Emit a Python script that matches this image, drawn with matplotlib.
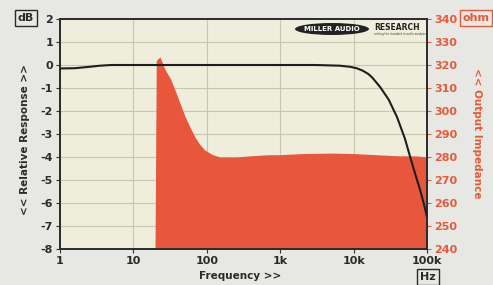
import numpy as np
import matplotlib
matplotlib.use("Agg")
import matplotlib.pyplot as plt
from matplotlib.patches import Ellipse

# Frequency response (dB)
resp_freq = [1, 1.6, 2.5, 3.5, 5, 10, 100, 1000, 3000, 6500, 9000, 11000, 13400, 16000, 18000, 23000, 30000, 39000, 50000, 59000, 70000, 80000, 90000, 100000]
resp_db = [-0.15, -0.14, -0.08, -0.03, 0.0, 0.0, 0.0, 0.0, 0.0, -0.03, -0.08, -0.14, -0.25, -0.4, -0.55, -0.96, -1.5, -2.26, -3.2, -4.0, -4.8, -5.4, -6.0, -6.6]

# Output impedance (ohm)
imp_freq = [19.7, 20.5, 23, 27, 32, 37, 43, 50, 59, 69, 80, 94, 120, 151, 250, 388, 700, 1000, 2000, 4800, 10000, 20000, 43000, 70000, 100000]
imp_ohm = [240, 322, 323.5, 318, 314, 309, 303.5, 298, 293, 288.7, 285.5, 283, 281, 280, 280, 280.5, 281, 281, 281.5, 281.7, 281.5, 281, 280.5, 280.5, 280]

x_ticks = [1, 10, 100, 1000, 10000, 100000]
x_labels = ["1", "10", "100", "1k", "10k", "100k"]
db_ticks = [2, 1, 0, -1, -2, -3, -4, -5, -6, -7, -8]
ohm_ticks = [340, 330, 320, 310, 300, 290, 280, 270, 260, 250, 240]

RED = "#e8563c"
TXT_RED = "#e45a3a"
BG = "#e7e7e3"
fig = plt.figure(figsize=(4.93, 2.85), dpi=100, facecolor=BG)
ax = fig.add_axes([60/493, 1-249/285, 367/493, 230/285])
ax2 = ax.twinx()

ax.set_xscale("log")
ax.set_xlim(1, 100000)
ax.set_ylim(-8, 2)
ax2.set_ylim(240, 340)

ax2.fill_between(imp_freq, 240, imp_ohm, color=RED, linewidth=0, zorder=1)
ax.set_zorder(ax2.get_zorder() + 1)
ax.patch.set_visible(False)
ax2.patch.set_visible(True)
ax2.patch.set_facecolor("#efeddb")
for t in x_ticks:
    ax2.axvline(t, color="#c9c6b0", linewidth=0.8, zorder=0)
for t in ohm_ticks:
    ax2.axhline(t, color="#c9c6b0", linewidth=0.8, zorder=0)

ax.plot(resp_freq, resp_db, color="#1e1e1e", linewidth=1.5, zorder=3)

ax.set_xticks(x_ticks)
ax.set_xticklabels(x_labels)
ax.xaxis.set_minor_locator(matplotlib.ticker.NullLocator())
ax.set_yticks(db_ticks)
ax.set_yticklabels([str(t) for t in db_ticks])
ax2.set_yticks(ohm_ticks)
ax2.set_yticklabels([str(t) for t in ohm_ticks])

for lab in ax.get_xticklabels() + ax.get_yticklabels():
    lab.set_fontweight("bold")
    lab.set_fontsize(8)
    lab.set_color("#2a2a2a")
for lab in ax2.get_yticklabels():
    lab.set_fontweight("bold")
    lab.set_fontsize(8)
    lab.set_color(TXT_RED)

ax.tick_params(axis="both", length=3, width=0.8, color="#333333", pad=2)
ax2.tick_params(axis="y", length=3, width=0.8, color=TXT_RED, pad=2)
for sp in list(ax.spines.values()) + list(ax2.spines.values()):
    sp.set_color("#2a2a2a")
    sp.set_linewidth(1.2)

fig.text(25/493, 1-140/285, "<< Relative Response >>", rotation=90, ha="center", va="center",
         fontsize=7.5, fontweight="bold", color="#2a2a2a")
fig.text(477/493, 1-133/285, "<< Output Impedance", rotation=-90, ha="center", va="center",
         fontsize=7.5, fontweight="bold", color=TXT_RED)
fig.text(240/493, 1-276/285, "Frequency >>", ha="center", va="center",
         fontsize=7.5, fontweight="bold", color="#2a2a2a")
fig.text(26/493, 1-18/285, "dB", ha="center", va="center", fontsize=8, fontweight="bold", color="#2a2a2a",
         bbox=dict(boxstyle="square,pad=0.25", fc=BG, ec="#2a2a2a", lw=1))
fig.text(476/493, 1-18/285, "ohm", ha="center", va="center", fontsize=8, fontweight="bold", color=TXT_RED,
         bbox=dict(boxstyle="square,pad=0.25", fc=BG, ec=TXT_RED, lw=1))
fig.text(428/493, 1-277/285, "Hz", ha="center", va="center", fontsize=8, fontweight="bold", color="#2a2a2a",
         bbox=dict(boxstyle="square,pad=0.25", fc=BG, ec="#2a2a2a", lw=1))

# logo
fig.patches.append(Ellipse((332/493, 1-29/285), 74/493, 12/285, transform=fig.transFigure,
                           fc="#222222", ec="none", zorder=5))
fig.text(332/493, 1-29/285, "MILLER AUDIO", ha="center", va="center", fontsize=5,
         fontweight="bold", color="white", zorder=6)
fig.text(397/493, 1-28/285, "RESEARCH", ha="center", va="center", fontsize=5.5,
         fontweight="bold", color="#222222", zorder=6)
fig.text(400/493, 1-34/285, "setting the standard in audio analysis", ha="center", va="center", fontsize=2,
         color="#444444", zorder=6)

fig.savefig("out.png", dpi=100, facecolor=fig.get_facecolor())
